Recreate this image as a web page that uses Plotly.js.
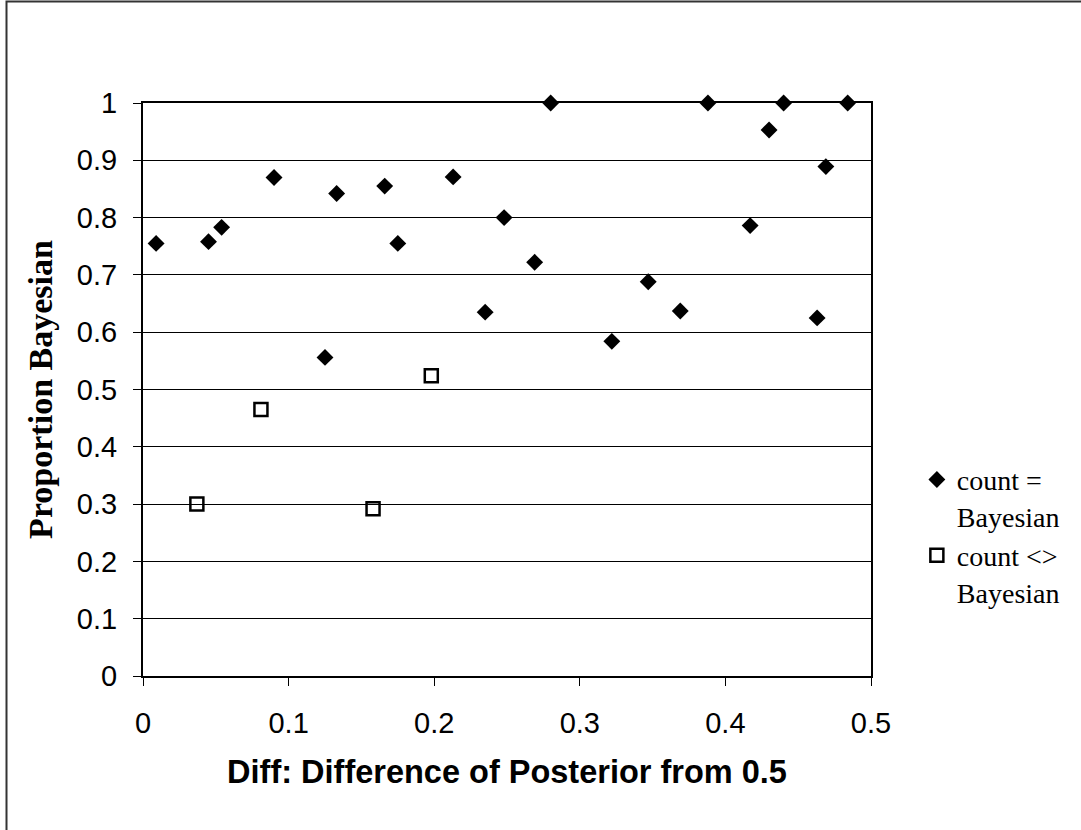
<!DOCTYPE html>
<html>
<head>
<meta charset="utf-8">
<script src="https://cdn.plot.ly/plotly-3.0.1.min.js"></script>
<style>html,body{margin:0;padding:0;background:#fff;}#chart{width:1081px;height:830px;}</style>
</head>
<body>
<div id="chart"></div>
<script>
const eqX = [0.009, 0.045, 0.054, 0.090, 0.125, 0.133, 0.166, 0.175, 0.213, 0.235, 0.248, 0.269, 0.280, 0.322, 0.347, 0.369, 0.388, 0.417, 0.430, 0.440, 0.463, 0.469, 0.484];
const eqY = [0.755, 0.758, 0.783, 0.870, 0.556, 0.842, 0.855, 0.755, 0.871, 0.635, 0.800, 0.722, 1.0, 0.584, 0.688, 0.637, 1.0, 0.786, 0.953, 1.0, 0.625, 0.889, 1.0];
const neX = [0.037, 0.081, 0.158, 0.198];
const neY = [0.300, 0.465, 0.292, 0.524];
const xTicks = [0, 0.1, 0.2, 0.3, 0.4, 0.5];
const yTicks = [0, 0.1, 0.2, 0.3, 0.4, 0.5, 0.6, 0.7, 0.8, 0.9, 1];

const traces = [
  {x: eqX, y: eqY, type: 'scatter', mode: 'markers', name: 'count =<br>Bayesian', cliponaxis: false,
   marker: {symbol: 'diamond', size: 13, color: '#000', line: {width: 0}}},
  {x: neX, y: neY, type: 'scatter', mode: 'markers', name: 'count &lt;&gt;<br>Bayesian', cliponaxis: false,
   marker: {symbol: 'square-open', size: 13, color: '#000', line: {width: 2.5, color: '#000'}}}
];

const layout = {
  width: 1081, height: 830,
  margin: {l: 143, r: 210, t: 103, b: 154},
  paper_bgcolor: '#fff', plot_bgcolor: '#fff',
  showlegend: true,
  legend: {x: 1.063, xanchor: 'left', y: 0.386, yanchor: 'top', valign: 'top',
    font: {family: 'Liberation Serif, Times New Roman, serif', size: 28, color: '#000'},
    tracegroupgap: 0, itemwidth: 30, bgcolor: 'rgba(0,0,0,0)'},
  xaxis: {range: [0, 0.5], tickvals: xTicks, ticktext: xTicks.map(String), showgrid: false, zeroline: false,
    showline: true, linecolor: '#000', linewidth: 2, mirror: true,
    ticks: 'outside', ticklen: 8, tickwidth: 1, tickcolor: '#000', ticklabelstandoff: 12,
    tickfont: {family: 'Liberation Sans, Arial, sans-serif', size: 29, color: '#000'},
    title: {text: '<b>Diff: Difference of Posterior from 0.5</b>', standoff: 22,
      font: {family: 'Liberation Sans, Arial, sans-serif', size: 32.5, color: '#000'}}},
  yaxis: {range: [0, 1], tickvals: yTicks, ticktext: yTicks.map(String), showgrid: true, gridcolor: '#000', gridwidth: 1, zeroline: false,
    showline: true, linecolor: '#000', linewidth: 2, mirror: true,
    ticks: 'outside', ticklen: 8, tickwidth: 1, tickcolor: '#000', ticklabelstandoff: 10,
    tickfont: {family: 'Liberation Sans, Arial, sans-serif', size: 29, color: '#000'},
    title: {text: '<b>Proportion Bayesian</b>', standoff: 14,
      font: {family: 'Liberation Serif, Times New Roman, serif', size: 34, color: '#000'}}},
  shapes: [{type: 'rect', xref: 'paper', yref: 'paper', x0: -0.1875, x1: 1.6, y0: -0.6, y1: 1.177,
    line: {color: '#333', width: 2}, fillcolor: 'rgba(0,0,0,0)', layer: 'below'}]
};

Plotly.newPlot('chart', traces, layout, {displayModeBar: false, staticPlot: true});
</script>
</body>
</html>
